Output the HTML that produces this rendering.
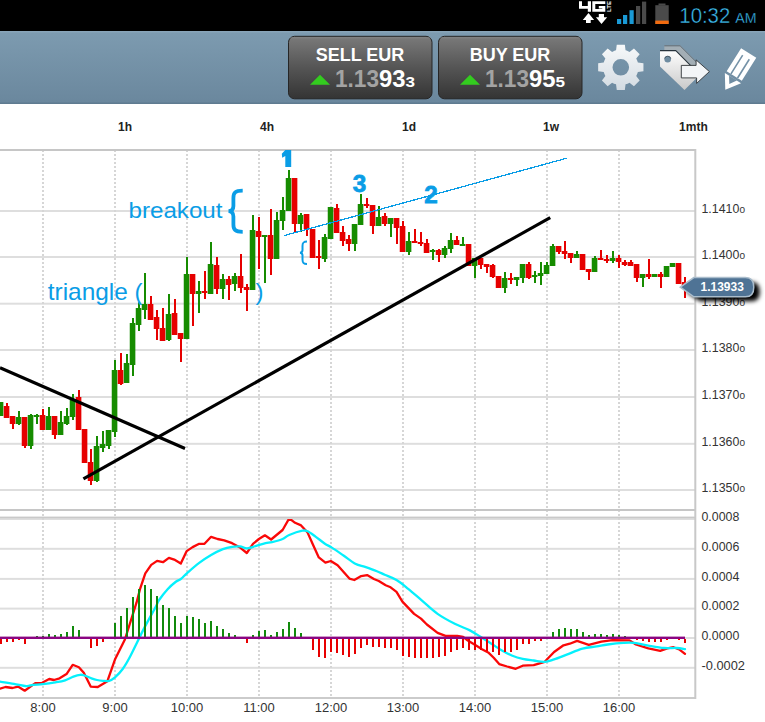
<!DOCTYPE html>
<html><head><meta charset="utf-8"><title>EUR chart</title>
<style>
html,body{margin:0;padding:0;width:765px;height:722px;overflow:hidden;background:#fff}
svg{display:block;position:absolute;left:0;top:0}
text{font-family:"Liberation Sans",sans-serif}
</style></head><body>
<svg width="765" height="722" viewBox="0 0 765 722">
<defs>
<linearGradient id="tb" x1="0" y1="0" x2="0" y2="1">
<stop offset="0" stop-color="#7d9bb0"/><stop offset="1" stop-color="#6a879d"/></linearGradient>
<linearGradient id="btn" x1="0" y1="0" x2="0" y2="1">
<stop offset="0" stop-color="#7a7a7a"/><stop offset="0.5" stop-color="#555555"/><stop offset="1" stop-color="#343434"/></linearGradient>
<linearGradient id="gear" x1="0" y1="0" x2="0" y2="1">
<stop offset="0" stop-color="#f7f9fa"/><stop offset="1" stop-color="#d3dbe2"/></linearGradient>
<linearGradient id="tagf" x1="0" y1="0" x2="0" y2="1">
<stop offset="0" stop-color="#ffffff"/><stop offset="1" stop-color="#c9c9c9"/></linearGradient>
<clipPath id="chartclip"><rect x="0" y="151" width="694" height="358"/></clipPath>
<clipPath id="macdclip"><rect x="0" y="519" width="694" height="178"/></clipPath>
<filter id="shadow" x="-20%" y="-40%" width="150%" height="200%"><feGaussianBlur stdDeviation="2"/></filter>
</defs>

<rect x="0" y="0" width="765" height="31" fill="#000"/>
<path d="M579 1.2 L582 1.2 L582 6 L587.8 6 L587.8 1.2 L591 1.2 L591 11.8 L587.8 11.8 L587.8 8.7 L579 8.7 Z" fill="#fff"/>
<path d="M592.3 1.2 L605.3 1.2 L605.3 4 L595.3 4 L595.3 9 L602.3 9 L602.3 8.4 L598.8 8.4 L598.8 6 L605.3 6 L605.3 11.8 L592.3 11.8 Z" fill="#fff"/>
<text transform="translate(611.2,12) rotate(-90)" font-size="6.2" font-weight="bold" fill="#fff" textLength="11" lengthAdjust="spacingAndGlyphs">LTE</text>
<path d="M588.5 13 L594.1 19.9 L590.7 19.9 L590.7 23 L586 23 L586 19.9 L582.8 19.9 Z" fill="#fff"/>
<path d="M601.5 24 L607.2 17.3 L604 17.3 L604 13.9 L598.8 13.9 L598.8 17.3 L595.9 17.3 Z" fill="#fff"/>
<rect x="617" y="19" width="4.2" height="5" fill="#1a9ad6"/>
<rect x="623" y="15" width="4.2" height="9" fill="#1a9ad6"/>
<rect x="629.5" y="10.2" width="4.2" height="13.8" fill="#1a9ad6"/>
<rect x="636" y="6" width="4.2" height="18" fill="#4a4a4a"/>
<rect x="642" y="1.6" width="4.2" height="22.4" fill="#4a4a4a"/>
<rect x="658.5" y="3.5" width="7" height="2" fill="#4a4a4a"/>
<rect x="655.3" y="5.2" width="13.4" height="18.8" fill="#4a4a4a"/>
<rect x="655.3" y="20.6" width="13.4" height="3.4" fill="#f26b0f"/>
<text x="679.3" y="22.9" font-size="21.5" fill="#3cbdf0" stroke="#000" stroke-width="0.4" textLength="51" lengthAdjust="spacingAndGlyphs">10:32</text>
<text x="735.3" y="22.9" font-size="15.3" fill="#3cbdf0" stroke="#000" stroke-width="0.3" textLength="21.3" lengthAdjust="spacingAndGlyphs">AM</text>
<rect x="0" y="31" width="765" height="73" fill="url(#tb)"/>
<rect x="0" y="31" width="765" height="1.5" fill="#88a4b8"/>
<rect x="0" y="102.5" width="765" height="1.5" fill="#5f7b90"/>
<rect x="288.5" y="36.3" width="143.5" height="62.5" rx="6" ry="6" fill="url(#btn)" stroke="#262626" stroke-width="1"/>
<rect x="290" y="37.3" width="141" height="1" fill="#8a8a8a" opacity="0.6"/>
<text x="360" y="60.6" font-size="18" font-weight="bold" fill="#fff" text-anchor="middle">SELL EUR</text>
<path d="M310 84.8 L320 74.7 L330 84.8 Z" fill="#33cc1f"/>
<text x="335" y="87" font-size="23.5" font-weight="bold" fill="#a3a3a3" textLength="44" lengthAdjust="spacingAndGlyphs">1.13</text>
<text x="379" y="87" font-size="23.5" font-weight="bold" fill="#fff" textLength="26.5" lengthAdjust="spacingAndGlyphs">93</text>
<text x="405.5" y="87" font-size="15" font-weight="bold" fill="#fff" textLength="9.5" lengthAdjust="spacingAndGlyphs">3</text>
<rect x="438.5" y="36.3" width="143.5" height="62.5" rx="6" ry="6" fill="url(#btn)" stroke="#262626" stroke-width="1"/>
<rect x="440" y="37.3" width="141" height="1" fill="#8a8a8a" opacity="0.6"/>
<text x="510" y="60.6" font-size="18" font-weight="bold" fill="#fff" text-anchor="middle">BUY EUR</text>
<path d="M460 84.8 L470 74.7 L480 84.8 Z" fill="#33cc1f"/>
<text x="485" y="87" font-size="23.5" font-weight="bold" fill="#a3a3a3" textLength="44" lengthAdjust="spacingAndGlyphs">1.13</text>
<text x="529" y="87" font-size="23.5" font-weight="bold" fill="#fff" textLength="26.5" lengthAdjust="spacingAndGlyphs">95</text>
<text x="555.5" y="87" font-size="15" font-weight="bold" fill="#fff" textLength="9.5" lengthAdjust="spacingAndGlyphs">5</text>
<path d="M616.05 50.25 L616.75 44.66 L624.85 44.66 L625.55 50.25 L626.57 50.57 L627.57 50.95 L628.55 51.39 L629.5 51.88 L633.95 48.43 L639.67 54.15 L636.22 58.6 L636.71 59.55 L637.15 60.53 L637.53 61.53 L637.85 62.55 L643.44 63.25 L643.44 71.35 L637.85 72.05 L637.53 73.07 L637.15 74.07 L636.71 75.05 L636.22 76 L639.67 80.45 L633.95 86.17 L629.5 82.72 L628.55 83.21 L627.57 83.65 L626.57 84.03 L625.55 84.35 L624.85 89.94 L616.75 89.94 L616.05 84.35 L615.03 84.03 L614.03 83.65 L613.05 83.21 L612.1 82.72 L607.65 86.17 L601.93 80.45 L605.38 76 L604.89 75.05 L604.45 74.07 L604.07 73.07 L603.75 72.05 L598.16 71.35 L598.16 63.25 L603.75 62.55 L604.07 61.53 L604.45 60.53 L604.89 59.55 L605.38 58.6 L601.93 54.15 L607.65 48.43 L612.1 51.88 L613.05 51.39 L614.03 50.95 L615.03 50.57 Z M629.1 67.3 A8.3 8.3 0 1 0 612.5 67.3 A8.3 8.3 0 1 0 629.1 67.3 Z" fill="url(#gear)" fill-rule="evenodd"/>
<path d="M664.3 45.3 L680.1 45.3 L704.4 69.6 L688.8 85.2 L664.3 61.7 Z" fill="#a3aeb5"/>
<path d="M664.3 45.8 L680.1 45.8 L698 63.7" fill="none" stroke="#56636d" stroke-width="0.9"/>
<path d="M660 50.1 L675.8 50.1 L700.1 74.4 L684.5 90 L660 66.5 Z" fill="url(#tagf)"/>
<path d="M660 50.6 L675.8 50.6 L694 68.8" fill="none" stroke="#27333c" stroke-width="1.1"/>
<circle cx="667.7" cy="59.2" r="3.3" fill="#6f8ca1"/>
<path d="M664.6 58.6 A3.2 3.2 0 0 1 670.8 58.6" fill="none" stroke="#3a4a56" stroke-width="0.8"/>
<path d="M681.3 65.4 L696.1 65.4 L696.1 59.9 L709.4 71.6 L696.6 83.4 L696.6 77.9 L681.3 77.9 Z" fill="#f3f5f7" stroke="#2f3337" stroke-width="0.9" stroke-linejoin="miter"/>
<g transform="translate(741.1,48.2) rotate(32)"><path d="M0 0 H17.9 V27.3 H0 Z M4.2 5 H5.8 V27.4 H4.2 Z M12 5 H13.6 V27.4 H12 Z" fill="#fff" fill-rule="evenodd"/><path d="M-0.6 29.7 H18.5 L8.6 43.6 Z M4.3 29.6 H13.5 L9 36.6 Z" fill="#fff" fill-rule="evenodd"/></g>
<text x="125" y="130.7" font-size="12" font-weight="bold" fill="#222" text-anchor="middle">1h</text>
<text x="267" y="130.7" font-size="12" font-weight="bold" fill="#222" text-anchor="middle">4h</text>
<text x="409" y="130.7" font-size="12" font-weight="bold" fill="#222" text-anchor="middle">1d</text>
<text x="551" y="130.7" font-size="12" font-weight="bold" fill="#222" text-anchor="middle">1w</text>
<text x="693.4" y="130.7" font-size="12" font-weight="bold" fill="#222" text-anchor="middle">1mth</text>
<rect x="0" y="210" width="695" height="2" fill="#dedede"/>
<rect x="0" y="256" width="695" height="2" fill="#dedede"/>
<rect x="0" y="302.7" width="695" height="2" fill="#dedede"/>
<rect x="0" y="349" width="695" height="2" fill="#dedede"/>
<rect x="0" y="396" width="695" height="2" fill="#dedede"/>
<rect x="0" y="442.8" width="695" height="2" fill="#dedede"/>
<rect x="0" y="489" width="695" height="2" fill="#dedede"/>
<rect x="0" y="547.8" width="695" height="2" fill="#dedede"/>
<rect x="0" y="577.9" width="695" height="2" fill="#dedede"/>
<rect x="0" y="607.6" width="695" height="2" fill="#dedede"/>
<rect x="0" y="637" width="695" height="2" fill="#dedede"/>
<rect x="0" y="666.8" width="695" height="2" fill="#dedede"/>
<rect x="0" y="518" width="695" height="2" fill="#dedede"/>
<line x1="43" y1="150" x2="43" y2="698" stroke="#d6d6d6" stroke-width="2" stroke-dasharray="2 2"/>
<line x1="115" y1="150" x2="115" y2="698" stroke="#d6d6d6" stroke-width="2" stroke-dasharray="2 2"/>
<line x1="187" y1="150" x2="187" y2="698" stroke="#d6d6d6" stroke-width="2" stroke-dasharray="2 2"/>
<line x1="259" y1="150" x2="259" y2="698" stroke="#d6d6d6" stroke-width="2" stroke-dasharray="2 2"/>
<line x1="331" y1="150" x2="331" y2="698" stroke="#d6d6d6" stroke-width="2" stroke-dasharray="2 2"/>
<line x1="403" y1="150" x2="403" y2="698" stroke="#d6d6d6" stroke-width="2" stroke-dasharray="2 2"/>
<line x1="475" y1="150" x2="475" y2="698" stroke="#d6d6d6" stroke-width="2" stroke-dasharray="2 2"/>
<line x1="547" y1="150" x2="547" y2="698" stroke="#d6d6d6" stroke-width="2" stroke-dasharray="2 2"/>
<line x1="619" y1="150" x2="619" y2="698" stroke="#d6d6d6" stroke-width="2" stroke-dasharray="2 2"/>
<rect x="0" y="149" width="696" height="2" fill="#c6c6c6"/>
<rect x="0" y="509" width="696" height="2" fill="#c6c6c6"/>
<rect x="0" y="516.6" width="696" height="1.6" fill="#c9c9c9"/>
<rect x="0" y="697" width="696" height="2" fill="#cbcbcb"/>
<rect x="694.3" y="149" width="2" height="550" fill="#c8c8c8"/>
<text x="701.5" y="212.8" font-size="12.3" fill="#333" textLength="37.8" lengthAdjust="spacingAndGlyphs">1.1410</text>
<text x="739.6" y="212.8" font-size="8.4" fill="#333" textLength="5.6" lengthAdjust="spacingAndGlyphs">0</text>
<text x="701.5" y="258.8" font-size="12.3" fill="#333" textLength="37.8" lengthAdjust="spacingAndGlyphs">1.1400</text>
<text x="739.6" y="258.8" font-size="8.4" fill="#333" textLength="5.6" lengthAdjust="spacingAndGlyphs">0</text>
<text x="701.5" y="305.5" font-size="12.3" fill="#333" textLength="37.8" lengthAdjust="spacingAndGlyphs">1.1390</text>
<text x="739.6" y="305.5" font-size="8.4" fill="#333" textLength="5.6" lengthAdjust="spacingAndGlyphs">0</text>
<text x="701.5" y="351.9" font-size="12.3" fill="#333" textLength="37.8" lengthAdjust="spacingAndGlyphs">1.1380</text>
<text x="739.6" y="351.9" font-size="8.4" fill="#333" textLength="5.6" lengthAdjust="spacingAndGlyphs">0</text>
<text x="701.5" y="398.8" font-size="12.3" fill="#333" textLength="37.8" lengthAdjust="spacingAndGlyphs">1.1370</text>
<text x="739.6" y="398.8" font-size="8.4" fill="#333" textLength="5.6" lengthAdjust="spacingAndGlyphs">0</text>
<text x="701.5" y="445.5" font-size="12.3" fill="#333" textLength="37.8" lengthAdjust="spacingAndGlyphs">1.1360</text>
<text x="739.6" y="445.5" font-size="8.4" fill="#333" textLength="5.6" lengthAdjust="spacingAndGlyphs">0</text>
<text x="701.5" y="492" font-size="12.3" fill="#333" textLength="37.8" lengthAdjust="spacingAndGlyphs">1.1350</text>
<text x="739.6" y="492" font-size="8.4" fill="#333" textLength="5.6" lengthAdjust="spacingAndGlyphs">0</text>
<text x="701.5" y="520.7" font-size="12.3" fill="#333" textLength="37.8" lengthAdjust="spacingAndGlyphs">0.0008</text>
<text x="701.5" y="550.5" font-size="12.3" fill="#333" textLength="37.8" lengthAdjust="spacingAndGlyphs">0.0006</text>
<text x="701.5" y="580.6" font-size="12.3" fill="#333" textLength="37.8" lengthAdjust="spacingAndGlyphs">0.0004</text>
<text x="701.5" y="610.3" font-size="12.3" fill="#333" textLength="37.8" lengthAdjust="spacingAndGlyphs">0.0002</text>
<text x="701.5" y="640" font-size="12.3" fill="#333" textLength="37.8" lengthAdjust="spacingAndGlyphs">0.0000</text>
<text x="701.5" y="669.7" font-size="12.3" fill="#333" textLength="43.5" lengthAdjust="spacingAndGlyphs">-0.0002</text>
<text x="43" y="712.2" font-size="13" fill="#333" text-anchor="middle">8:00</text>
<text x="115" y="712.2" font-size="13" fill="#333" text-anchor="middle">9:00</text>
<text x="187" y="712.2" font-size="13" fill="#333" text-anchor="middle">10:00</text>
<text x="259" y="712.2" font-size="13" fill="#333" text-anchor="middle">11:00</text>
<text x="331" y="712.2" font-size="13" fill="#333" text-anchor="middle">12:00</text>
<text x="403" y="712.2" font-size="13" fill="#333" text-anchor="middle">13:00</text>
<text x="475" y="712.2" font-size="13" fill="#333" text-anchor="middle">14:00</text>
<text x="547" y="712.2" font-size="13" fill="#333" text-anchor="middle">15:00</text>
<text x="619" y="712.2" font-size="13" fill="#333" text-anchor="middle">16:00</text>
<g clip-path="url(#chartclip)" shape-rendering="crispEdges">
<rect x="0" y="402" width="2" height="14" fill="#168c00"/>
<rect x="-2.25" y="402" width="5.6" height="14" fill="#168c00" shape-rendering="geometricPrecision"/>
<rect x="6" y="403" width="2" height="15" fill="#e60000"/>
<rect x="3.75" y="406" width="5.6" height="12" fill="#e60000" shape-rendering="geometricPrecision"/>
<rect x="12" y="416" width="2" height="13" fill="#e60000"/>
<rect x="9.75" y="416" width="5.6" height="8" fill="#e60000" shape-rendering="geometricPrecision"/>
<rect x="18" y="411" width="2" height="14" fill="#168c00"/>
<rect x="15.75" y="417" width="5.6" height="7" fill="#168c00" shape-rendering="geometricPrecision"/>
<rect x="24" y="417" width="2" height="31" fill="#e60000"/>
<rect x="21.75" y="417" width="5.6" height="29" fill="#e60000" shape-rendering="geometricPrecision"/>
<rect x="30" y="414" width="2" height="35" fill="#168c00"/>
<rect x="27.75" y="415" width="5.6" height="31" fill="#168c00" shape-rendering="geometricPrecision"/>
<rect x="36" y="414" width="2" height="10" fill="#168c00"/>
<rect x="33.75" y="415" width="5.6" height="2" fill="#168c00" shape-rendering="geometricPrecision"/>
<rect x="42" y="409" width="2" height="21" fill="#e60000"/>
<rect x="39.75" y="415" width="5.6" height="15" fill="#e60000" shape-rendering="geometricPrecision"/>
<rect x="48" y="407" width="2" height="23" fill="#168c00"/>
<rect x="45.75" y="416" width="5.6" height="14" fill="#168c00" shape-rendering="geometricPrecision"/>
<rect x="54" y="416" width="2" height="23" fill="#e60000"/>
<rect x="51.75" y="416" width="5.6" height="19" fill="#e60000" shape-rendering="geometricPrecision"/>
<rect x="60" y="411" width="2" height="24" fill="#168c00"/>
<rect x="57.75" y="422" width="5.6" height="13" fill="#168c00" shape-rendering="geometricPrecision"/>
<rect x="66" y="408" width="2" height="17" fill="#168c00"/>
<rect x="63.75" y="416" width="5.6" height="8" fill="#168c00" shape-rendering="geometricPrecision"/>
<rect x="72" y="394" width="2" height="26" fill="#168c00"/>
<rect x="69.75" y="400" width="5.6" height="17" fill="#168c00" shape-rendering="geometricPrecision"/>
<rect x="78" y="390" width="2" height="40" fill="#e60000"/>
<rect x="75.75" y="397" width="5.6" height="33" fill="#e60000" shape-rendering="geometricPrecision"/>
<rect x="84" y="429" width="2" height="34" fill="#e60000"/>
<rect x="81.75" y="429" width="5.6" height="34" fill="#e60000" shape-rendering="geometricPrecision"/>
<rect x="90" y="449" width="2" height="36" fill="#e60000"/>
<rect x="87.75" y="462" width="5.6" height="19" fill="#e60000" shape-rendering="geometricPrecision"/>
<rect x="96" y="436" width="2" height="46" fill="#168c00"/>
<rect x="93.75" y="446" width="5.6" height="35" fill="#168c00" shape-rendering="geometricPrecision"/>
<rect x="102" y="431" width="2" height="21" fill="#168c00"/>
<rect x="99.75" y="444" width="5.6" height="4" fill="#168c00" shape-rendering="geometricPrecision"/>
<rect x="108" y="430" width="2" height="19" fill="#168c00"/>
<rect x="105.75" y="430" width="5.6" height="16" fill="#168c00" shape-rendering="geometricPrecision"/>
<rect x="114" y="360" width="2" height="77" fill="#168c00"/>
<rect x="111.75" y="370" width="5.6" height="62" fill="#168c00" shape-rendering="geometricPrecision"/>
<rect x="120" y="353" width="2" height="32" fill="#e60000"/>
<rect x="117.75" y="370" width="5.6" height="14" fill="#e60000" shape-rendering="geometricPrecision"/>
<rect x="126" y="354" width="2" height="29" fill="#168c00"/>
<rect x="123.75" y="363" width="5.6" height="20" fill="#168c00" shape-rendering="geometricPrecision"/>
<rect x="132" y="318" width="2" height="58" fill="#168c00"/>
<rect x="129.75" y="323" width="5.6" height="42" fill="#168c00" shape-rendering="geometricPrecision"/>
<rect x="138" y="302" width="2" height="29" fill="#168c00"/>
<rect x="135.75" y="308" width="5.6" height="17" fill="#168c00" shape-rendering="geometricPrecision"/>
<rect x="144" y="273" width="2" height="46" fill="#168c00"/>
<rect x="141.75" y="304" width="5.6" height="6" fill="#168c00" shape-rendering="geometricPrecision"/>
<rect x="150" y="296" width="2" height="24" fill="#e60000"/>
<rect x="147.75" y="304" width="5.6" height="16" fill="#e60000" shape-rendering="geometricPrecision"/>
<rect x="156" y="310" width="2" height="30" fill="#e60000"/>
<rect x="153.75" y="317" width="5.6" height="12" fill="#e60000" shape-rendering="geometricPrecision"/>
<rect x="162" y="308" width="2" height="33" fill="#e60000"/>
<rect x="159.75" y="328" width="5.6" height="13" fill="#e60000" shape-rendering="geometricPrecision"/>
<rect x="168" y="294" width="2" height="47" fill="#168c00"/>
<rect x="165.75" y="314" width="5.6" height="26" fill="#168c00" shape-rendering="geometricPrecision"/>
<rect x="174" y="299" width="2" height="36" fill="#e60000"/>
<rect x="171.75" y="313" width="5.6" height="22" fill="#e60000" shape-rendering="geometricPrecision"/>
<rect x="180" y="333" width="2" height="29" fill="#e60000"/>
<rect x="177.75" y="333" width="5.6" height="6" fill="#e60000" shape-rendering="geometricPrecision"/>
<rect x="186" y="257" width="2" height="82" fill="#168c00"/>
<rect x="183.75" y="274" width="5.6" height="65" fill="#168c00" shape-rendering="geometricPrecision"/>
<rect x="192" y="274" width="2" height="52" fill="#e60000"/>
<rect x="189.75" y="274" width="5.6" height="20" fill="#e60000" shape-rendering="geometricPrecision"/>
<rect x="198" y="281" width="2" height="32" fill="#168c00"/>
<rect x="195.75" y="291" width="5.6" height="3" fill="#168c00" shape-rendering="geometricPrecision"/>
<rect x="204" y="271" width="2" height="28" fill="#e60000"/>
<rect x="201.75" y="291" width="5.6" height="2" fill="#e60000" shape-rendering="geometricPrecision"/>
<rect x="210" y="242" width="2" height="52" fill="#168c00"/>
<rect x="207.75" y="264" width="5.6" height="30" fill="#168c00" shape-rendering="geometricPrecision"/>
<rect x="216" y="257" width="2" height="37" fill="#e60000"/>
<rect x="213.75" y="265" width="5.6" height="24" fill="#e60000" shape-rendering="geometricPrecision"/>
<rect x="222" y="274" width="2" height="25" fill="#168c00"/>
<rect x="219.75" y="279" width="5.6" height="10" fill="#168c00" shape-rendering="geometricPrecision"/>
<rect x="228" y="276" width="2" height="24" fill="#e60000"/>
<rect x="225.75" y="279" width="5.6" height="6" fill="#e60000" shape-rendering="geometricPrecision"/>
<rect x="234" y="273" width="2" height="18" fill="#168c00"/>
<rect x="231.75" y="276" width="5.6" height="8" fill="#168c00" shape-rendering="geometricPrecision"/>
<rect x="240" y="254" width="2" height="39" fill="#e60000"/>
<rect x="237.75" y="276" width="5.6" height="12" fill="#e60000" shape-rendering="geometricPrecision"/>
<rect x="246" y="284" width="2" height="27" fill="#e60000"/>
<rect x="243.75" y="287" width="5.6" height="3" fill="#e60000" shape-rendering="geometricPrecision"/>
<rect x="252" y="215" width="2" height="75" fill="#168c00"/>
<rect x="249.75" y="230" width="5.6" height="60" fill="#168c00" shape-rendering="geometricPrecision"/>
<rect x="258" y="217" width="2" height="52" fill="#e60000"/>
<rect x="255.75" y="231" width="5.6" height="6" fill="#e60000" shape-rendering="geometricPrecision"/>
<rect x="264" y="235" width="2" height="48" fill="#168c00"/>
<rect x="261.75" y="235" width="5.6" height="2" fill="#168c00" shape-rendering="geometricPrecision"/>
<rect x="270" y="209" width="2" height="66" fill="#e60000"/>
<rect x="267.75" y="235" width="5.6" height="24" fill="#e60000" shape-rendering="geometricPrecision"/>
<rect x="276" y="212" width="2" height="47" fill="#168c00"/>
<rect x="273.75" y="220" width="5.6" height="39" fill="#168c00" shape-rendering="geometricPrecision"/>
<rect x="282" y="197" width="2" height="33" fill="#168c00"/>
<rect x="279.75" y="210" width="5.6" height="11" fill="#168c00" shape-rendering="geometricPrecision"/>
<rect x="288" y="170" width="2" height="41" fill="#168c00"/>
<rect x="285.75" y="178" width="5.6" height="33" fill="#168c00" shape-rendering="geometricPrecision"/>
<rect x="294" y="178" width="2" height="54" fill="#e60000"/>
<rect x="291.75" y="178" width="5.6" height="46" fill="#e60000" shape-rendering="geometricPrecision"/>
<rect x="300" y="213" width="2" height="19" fill="#168c00"/>
<rect x="297.75" y="215" width="5.6" height="9" fill="#168c00" shape-rendering="geometricPrecision"/>
<rect x="306" y="214" width="2" height="22" fill="#e60000"/>
<rect x="303.75" y="214" width="5.6" height="15" fill="#e60000" shape-rendering="geometricPrecision"/>
<rect x="312" y="229" width="2" height="29" fill="#e60000"/>
<rect x="309.75" y="229" width="5.6" height="29" fill="#e60000" shape-rendering="geometricPrecision"/>
<rect x="318" y="240" width="2" height="29" fill="#e60000"/>
<rect x="315.75" y="256" width="5.6" height="2" fill="#e60000" shape-rendering="geometricPrecision"/>
<rect x="324" y="234" width="2" height="28" fill="#168c00"/>
<rect x="321.75" y="237" width="5.6" height="22" fill="#168c00" shape-rendering="geometricPrecision"/>
<rect x="330" y="207" width="2" height="32" fill="#168c00"/>
<rect x="327.75" y="207" width="5.6" height="32" fill="#168c00" shape-rendering="geometricPrecision"/>
<rect x="336" y="204" width="2" height="29" fill="#e60000"/>
<rect x="333.75" y="208" width="5.6" height="25" fill="#e60000" shape-rendering="geometricPrecision"/>
<rect x="342" y="226" width="2" height="20" fill="#e60000"/>
<rect x="339.75" y="232" width="5.6" height="9" fill="#e60000" shape-rendering="geometricPrecision"/>
<rect x="348" y="235" width="2" height="16" fill="#e60000"/>
<rect x="345.75" y="239" width="5.6" height="5" fill="#e60000" shape-rendering="geometricPrecision"/>
<rect x="354" y="224" width="2" height="27" fill="#168c00"/>
<rect x="351.75" y="224" width="5.6" height="20" fill="#168c00" shape-rendering="geometricPrecision"/>
<rect x="360" y="194" width="2" height="31" fill="#168c00"/>
<rect x="357.75" y="204" width="5.6" height="21" fill="#168c00" shape-rendering="geometricPrecision"/>
<rect x="366" y="198" width="2" height="10" fill="#e60000"/>
<rect x="363.75" y="204" width="5.6" height="2" fill="#e60000" shape-rendering="geometricPrecision"/>
<rect x="372" y="205" width="2" height="29" fill="#e60000"/>
<rect x="369.75" y="205" width="5.6" height="21" fill="#e60000" shape-rendering="geometricPrecision"/>
<rect x="378" y="206" width="2" height="20" fill="#168c00"/>
<rect x="375.75" y="217" width="5.6" height="9" fill="#168c00" shape-rendering="geometricPrecision"/>
<rect x="384" y="213" width="2" height="13" fill="#e60000"/>
<rect x="381.75" y="216" width="5.6" height="8" fill="#e60000" shape-rendering="geometricPrecision"/>
<rect x="390" y="218" width="2" height="19" fill="#168c00"/>
<rect x="387.75" y="218" width="5.6" height="6" fill="#168c00" shape-rendering="geometricPrecision"/>
<rect x="396" y="218" width="2" height="26" fill="#e60000"/>
<rect x="393.75" y="218" width="5.6" height="10" fill="#e60000" shape-rendering="geometricPrecision"/>
<rect x="402" y="221" width="2" height="31" fill="#e60000"/>
<rect x="399.75" y="226" width="5.6" height="26" fill="#e60000" shape-rendering="geometricPrecision"/>
<rect x="408" y="232" width="2" height="23" fill="#168c00"/>
<rect x="405.75" y="241" width="5.6" height="11" fill="#168c00" shape-rendering="geometricPrecision"/>
<rect x="414" y="229" width="2" height="14" fill="#e60000"/>
<rect x="411.75" y="241" width="5.6" height="2" fill="#e60000" shape-rendering="geometricPrecision"/>
<rect x="420" y="232" width="2" height="14" fill="#e60000"/>
<rect x="417.75" y="242" width="5.6" height="2" fill="#e60000" shape-rendering="geometricPrecision"/>
<rect x="426" y="239" width="2" height="14" fill="#e60000"/>
<rect x="423.75" y="243" width="5.6" height="10" fill="#e60000" shape-rendering="geometricPrecision"/>
<rect x="432" y="249" width="2" height="11" fill="#168c00"/>
<rect x="429.75" y="250" width="5.6" height="2" fill="#168c00" shape-rendering="geometricPrecision"/>
<rect x="438" y="249" width="2" height="13" fill="#e60000"/>
<rect x="435.75" y="250" width="5.6" height="5" fill="#e60000" shape-rendering="geometricPrecision"/>
<rect x="444" y="246" width="2" height="12" fill="#168c00"/>
<rect x="441.75" y="248" width="5.6" height="7" fill="#168c00" shape-rendering="geometricPrecision"/>
<rect x="450" y="233" width="2" height="20" fill="#168c00"/>
<rect x="447.75" y="240" width="5.6" height="9" fill="#168c00" shape-rendering="geometricPrecision"/>
<rect x="456" y="236" width="2" height="9" fill="#e60000"/>
<rect x="453.75" y="240" width="5.6" height="5" fill="#e60000" shape-rendering="geometricPrecision"/>
<rect x="462" y="237" width="2" height="8" fill="#168c00"/>
<rect x="459.75" y="244" width="5.6" height="2" fill="#168c00" shape-rendering="geometricPrecision"/>
<rect x="468" y="244" width="2" height="22" fill="#e60000"/>
<rect x="465.75" y="244" width="5.6" height="22" fill="#e60000" shape-rendering="geometricPrecision"/>
<rect x="474" y="258" width="2" height="20" fill="#168c00"/>
<rect x="471.75" y="258" width="5.6" height="8" fill="#168c00" shape-rendering="geometricPrecision"/>
<rect x="480" y="258" width="2" height="11" fill="#e60000"/>
<rect x="477.75" y="258" width="5.6" height="7" fill="#e60000" shape-rendering="geometricPrecision"/>
<rect x="486" y="264" width="2" height="9" fill="#e60000"/>
<rect x="483.75" y="264" width="5.6" height="3" fill="#e60000" shape-rendering="geometricPrecision"/>
<rect x="492" y="264" width="2" height="14" fill="#e60000"/>
<rect x="489.75" y="265" width="5.6" height="12" fill="#e60000" shape-rendering="geometricPrecision"/>
<rect x="498" y="276" width="2" height="12" fill="#e60000"/>
<rect x="495.75" y="276" width="5.6" height="12" fill="#e60000" shape-rendering="geometricPrecision"/>
<rect x="504" y="272" width="2" height="21" fill="#168c00"/>
<rect x="501.75" y="278" width="5.6" height="10" fill="#168c00" shape-rendering="geometricPrecision"/>
<rect x="510" y="273" width="2" height="11" fill="#e60000"/>
<rect x="507.75" y="278" width="5.6" height="2" fill="#e60000" shape-rendering="geometricPrecision"/>
<rect x="516" y="277" width="2" height="9" fill="#168c00"/>
<rect x="513.75" y="277" width="5.6" height="3" fill="#168c00" shape-rendering="geometricPrecision"/>
<rect x="522" y="264" width="2" height="19" fill="#168c00"/>
<rect x="519.75" y="264" width="5.6" height="14" fill="#168c00" shape-rendering="geometricPrecision"/>
<rect x="528" y="262" width="2" height="17" fill="#e60000"/>
<rect x="525.75" y="264" width="5.6" height="14" fill="#e60000" shape-rendering="geometricPrecision"/>
<rect x="534" y="271" width="2" height="12" fill="#168c00"/>
<rect x="531.75" y="275" width="5.6" height="2" fill="#168c00" shape-rendering="geometricPrecision"/>
<rect x="540" y="262" width="2" height="23" fill="#168c00"/>
<rect x="537.75" y="273" width="5.6" height="3" fill="#168c00" shape-rendering="geometricPrecision"/>
<rect x="546" y="262" width="2" height="12" fill="#168c00"/>
<rect x="543.75" y="265" width="5.6" height="9" fill="#168c00" shape-rendering="geometricPrecision"/>
<rect x="552" y="244" width="2" height="22" fill="#168c00"/>
<rect x="549.75" y="246" width="5.6" height="20" fill="#168c00" shape-rendering="geometricPrecision"/>
<rect x="558" y="246" width="2" height="8" fill="#e60000"/>
<rect x="555.75" y="246" width="5.6" height="6" fill="#e60000" shape-rendering="geometricPrecision"/>
<rect x="564" y="241" width="2" height="18" fill="#e60000"/>
<rect x="561.75" y="251" width="5.6" height="3" fill="#e60000" shape-rendering="geometricPrecision"/>
<rect x="570" y="253" width="2" height="10" fill="#e60000"/>
<rect x="567.75" y="253" width="5.6" height="5" fill="#e60000" shape-rendering="geometricPrecision"/>
<rect x="576" y="251" width="2" height="7" fill="#168c00"/>
<rect x="573.75" y="254" width="5.6" height="4" fill="#168c00" shape-rendering="geometricPrecision"/>
<rect x="582" y="254" width="2" height="16" fill="#e60000"/>
<rect x="579.75" y="254" width="5.6" height="16" fill="#e60000" shape-rendering="geometricPrecision"/>
<rect x="588" y="269" width="2" height="11" fill="#e60000"/>
<rect x="585.75" y="269" width="5.6" height="3" fill="#e60000" shape-rendering="geometricPrecision"/>
<rect x="594" y="256" width="2" height="16" fill="#168c00"/>
<rect x="591.75" y="258" width="5.6" height="14" fill="#168c00" shape-rendering="geometricPrecision"/>
<rect x="600" y="250" width="2" height="10" fill="#e60000"/>
<rect x="597.75" y="258" width="5.6" height="2" fill="#e60000" shape-rendering="geometricPrecision"/>
<rect x="606" y="255" width="2" height="8" fill="#e60000"/>
<rect x="603.75" y="259" width="5.6" height="2" fill="#e60000" shape-rendering="geometricPrecision"/>
<rect x="612" y="251" width="2" height="12" fill="#168c00"/>
<rect x="609.75" y="258" width="5.6" height="3" fill="#168c00" shape-rendering="geometricPrecision"/>
<rect x="618" y="255" width="2" height="13" fill="#e60000"/>
<rect x="615.75" y="258" width="5.6" height="4" fill="#e60000" shape-rendering="geometricPrecision"/>
<rect x="624" y="260" width="2" height="6" fill="#e60000"/>
<rect x="621.75" y="262" width="5.6" height="3" fill="#e60000" shape-rendering="geometricPrecision"/>
<rect x="630" y="260" width="2" height="6" fill="#e60000"/>
<rect x="627.75" y="262" width="5.6" height="4" fill="#e60000" shape-rendering="geometricPrecision"/>
<rect x="636" y="264" width="2" height="18" fill="#e60000"/>
<rect x="633.75" y="264" width="5.6" height="14" fill="#e60000" shape-rendering="geometricPrecision"/>
<rect x="642" y="274" width="2" height="13" fill="#168c00"/>
<rect x="639.75" y="274" width="5.6" height="4" fill="#168c00" shape-rendering="geometricPrecision"/>
<rect x="648" y="259" width="2" height="20" fill="#e60000"/>
<rect x="645.75" y="274" width="5.6" height="3" fill="#e60000" shape-rendering="geometricPrecision"/>
<rect x="654" y="274" width="2" height="3" fill="#168c00"/>
<rect x="651.75" y="274" width="5.6" height="3" fill="#168c00" shape-rendering="geometricPrecision"/>
<rect x="660" y="272" width="2" height="16" fill="#e60000"/>
<rect x="657.75" y="274" width="5.6" height="3" fill="#e60000" shape-rendering="geometricPrecision"/>
<rect x="666" y="266" width="2" height="11" fill="#168c00"/>
<rect x="663.75" y="266" width="5.6" height="11" fill="#168c00" shape-rendering="geometricPrecision"/>
<rect x="672" y="263" width="2" height="4" fill="#168c00"/>
<rect x="669.75" y="263" width="5.6" height="4" fill="#168c00" shape-rendering="geometricPrecision"/>
<rect x="678" y="263" width="2" height="21" fill="#e60000"/>
<rect x="675.75" y="263" width="5.6" height="21" fill="#e60000" shape-rendering="geometricPrecision"/>
<rect x="684" y="277" width="2" height="21" fill="#e60000"/>
<rect x="681.75" y="282" width="5.6" height="4" fill="#e60000" shape-rendering="geometricPrecision"/>
</g>
<line x1="0" y1="367.7" x2="185" y2="448.5" stroke="#000" stroke-width="3.2"/>
<line x1="83.4" y1="478.8" x2="550.2" y2="217.6" stroke="#000" stroke-width="3.2"/>
<line x1="284" y1="235.6" x2="566.8" y2="158.2" stroke="#0a9de6" stroke-width="1.3" shape-rendering="crispEdges"/>
<text x="128.5" y="218.2" font-size="22.6" fill="#0a9de6" textLength="94" lengthAdjust="spacingAndGlyphs">breakout</text>
<path d="M242.7 190.6 C235 190.6 233.4 193 233.4 198 L233.4 206 C233.4 209.5 231.8 211 228.6 211.2 C231.8 211.4 233.4 213 233.4 216.5 L233.4 224.5 C233.4 229.5 235 231.8 242.7 231.8" fill="none" stroke="#0a9de6" stroke-width="3.8"/>
<text x="47.8" y="299.5" font-size="24" fill="#0a9de6" textLength="80" lengthAdjust="spacingAndGlyphs">triangle</text>
<text x="134.5" y="300" font-size="24" fill="#0a9de6">(</text>
<text x="255.5" y="300" font-size="24" fill="#0a9de6">)</text>
<path d="M307 241.5 C303 241.5 302.5 243 302.5 246 L302.5 250 C302.5 251.8 301.5 252.6 300 252.7 C301.5 252.8 302.5 253.6 302.5 255.4 L302.5 259.5 C302.5 262.5 303 264 307 264" fill="none" stroke="#0a9de6" stroke-width="2"/>
<path d="M285.3 150 L291.2 150 L291.2 167 L285.3 167 L285.3 156 L282.2 157.8 L281.8 153.8 Z" fill="#0a9de6"/>
<text x="352.8" y="191.6" font-size="24.2" font-weight="bold" fill="#0a9de6" stroke="#0a9de6" stroke-width="0.8">3</text>
<text x="424.3" y="202.9" font-size="24.2" font-weight="bold" fill="#0a9de6" stroke="#0a9de6" stroke-width="0.8">2</text>
<g clip-path="url(#macdclip)">
<polyline points="0,688.6 5.5,687 12.5,688 18,686.6 24.7,690.7 35.3,683.1 42.2,682.8 49.2,679 54,680 59.6,678.3 66.5,674.1 72.7,664.8 78.9,667.2 83.8,672.7 90.7,686.6 97.8,687 107.4,681.2 115.2,658.9 124.9,639.5 136.5,602.7 140,589.2 145.3,573.4 151.2,564.9 157.1,560.9 163,562.2 168.9,557.9 174.2,559.6 180.8,563.6 186.7,551.1 192.6,547.1 199.2,543.8 204.5,543.8 211.1,536.8 217.6,539 224.2,540.3 232.1,543.2 240.5,547.8 246.8,553 253,543.8 258.9,539 264.9,535.3 271.1,539.5 282.6,530 289.2,518.4 295.1,522.8 301.1,525.4 307.6,532.6 312.9,544.5 318.8,557.4 325.4,562.6 330.8,561 337.6,565.3 349.4,578.6 354.3,580 361.2,576.1 367.1,575.1 373.9,579 378.8,581 385.7,585.3 390.6,587.3 396.5,591.8 402.4,601.6 414.1,613.9 421,618.6 426.9,624.5 437.6,632.9 445.5,635.9 457.3,635.9 463.1,636.9 467.8,640.6 475.7,645.3 482,649.2 488.2,652.4 493.7,657.8 499.2,664.1 507.1,666.5 515.7,668.8 522.7,665.7 533.7,665.2 544.7,661.8 554.1,652 563.5,645.3 569.8,643.7 577.1,640.9 588.8,644.8 601.4,641.7 612.4,640.1 629.6,640.4 635.9,644.5 648.4,648.3 660.2,650.8 667.3,648.3 673.5,647.2 679.8,649.8 685,653.9" fill="none" stroke="#fa0808" stroke-width="2.3" stroke-linejoin="round" stroke-linecap="round"/>
<path d="M0 681.7 C2.32 682.05 9.52 683.07 13.9 683.8 C18.28 684.53 23.08 685.93 26.3 686.1 C29.52 686.27 30.43 685.12 33.2 684.8 C35.97 684.48 39.2 684.6 42.9 684.2 C46.6 683.8 51.7 683.05 55.4 682.4 C59.1 681.75 62.1 681.27 65.1 680.3 C68.1 679.33 70.87 677.52 73.4 676.6 C75.93 675.68 78.45 674.98 80.3 674.8 C82.15 674.62 82.65 674.92 84.5 675.5 C86.35 676.08 89.32 677.55 91.4 678.3 C93.48 679.05 95.07 679.58 97 680 C98.93 680.42 101 680.67 103 680.8 C105 680.93 107 681.38 109 680.8 C111 680.22 112.72 679.27 115 677.3 C117.28 675.33 120.2 672.42 122.7 669 C125.2 665.58 126.4 663.65 130 656.8 C133.6 649.95 139.98 636.28 144.3 627.9 C148.62 619.52 153.43 611.15 155.9 606.5 C158.37 601.85 157.15 602.88 159.1 600 C161.05 597.12 164.87 592.2 167.6 589.2 C170.33 586.2 173.3 583.7 175.5 582 C177.7 580.3 178.82 580.53 180.8 579 C182.78 577.47 184.33 575.48 187.4 572.8 C190.47 570.12 195.25 565.87 199.2 562.9 C203.15 559.93 207.15 557.3 211.1 555 C215.05 552.7 219.4 550.47 222.9 549.1 C226.4 547.73 229.25 547.25 232.1 546.8 C234.95 546.35 237.5 546.13 240 546.4 C242.5 546.67 244.38 548.5 247.1 548.4 C249.82 548.3 253.23 546.67 256.3 545.8 C259.37 544.93 262.87 543.82 265.5 543.2 C268.13 542.58 269.25 542.8 272.1 542.1 C274.95 541.4 279.75 540.18 282.6 539 C285.45 537.82 285.9 536.38 289.2 535 C292.5 533.62 299.33 531.32 302.4 530.7 C305.47 530.08 305.42 530.32 307.6 531.3 C309.78 532.28 312.62 534.53 315.5 536.6 C318.38 538.67 322.18 541.87 324.9 543.7 C327.62 545.53 328.7 545.63 331.8 547.6 C334.9 549.57 339.58 552.82 343.5 555.5 C347.42 558.18 351.7 561.8 355.3 563.7 C358.9 565.6 361.5 565.65 365.1 566.9 C368.7 568.15 373.63 569.9 376.9 571.2 C380.17 572.5 381.43 573.23 384.7 574.7 C387.97 576.17 392.58 577.65 396.5 580 C400.42 582.35 403.95 585.37 408.2 588.8 C412.45 592.23 417.1 596.42 422 600.6 C426.9 604.78 432.05 609.98 437.6 613.9 C443.15 617.82 450 621.4 455.3 624.1 C460.6 626.8 465.22 628 469.4 630.1 C473.58 632.2 476.73 634.43 480.4 636.7 C484.07 638.97 487.73 641.35 491.4 643.7 C495.07 646.05 499 648.83 502.4 650.8 C505.8 652.77 508.42 654.15 511.8 655.5 C515.18 656.85 519.05 658.07 522.7 658.9 C526.35 659.73 530.03 660.02 533.7 660.5 C537.37 660.98 541.3 661.98 544.7 661.8 C548.1 661.62 550.43 660.58 554.1 659.4 C557.77 658.22 561.97 656.48 566.7 654.7 C571.43 652.92 577.5 650.08 582.5 648.7 C587.5 647.32 592.52 647.1 596.7 646.4 C600.88 645.7 603.17 645.08 607.6 644.5 C612.03 643.92 618.85 643.17 623.3 642.9 C627.75 642.63 630.12 642.45 634.3 642.9 C638.48 643.35 643.43 644.75 648.4 645.6 C653.37 646.45 659.38 647.6 664.1 648 C668.82 648.4 673.22 647.8 676.7 648 C680.18 648.2 683.62 649 685 649.2" fill="none" stroke="#05f0fc" stroke-width="2.3" stroke-linejoin="round" stroke-linecap="round"/>
</g>
<g clip-path="url(#macdclip)" shape-rendering="crispEdges">
<rect x="0" y="639" width="2" height="5" fill="#e80000"/>
<rect x="6" y="639" width="2" height="3" fill="#e80000"/>
<rect x="12" y="639" width="2" height="3" fill="#e80000"/>
<rect x="18" y="639" width="2" height="1" fill="#e80000"/>
<rect x="24" y="639" width="2" height="5" fill="#e80000"/>
<rect x="36" y="636" width="2" height="1" fill="#118a0c"/>
<rect x="42" y="636" width="2" height="1" fill="#118a0c"/>
<rect x="48" y="634" width="2" height="3" fill="#118a0c"/>
<rect x="54" y="635" width="2" height="2" fill="#118a0c"/>
<rect x="60" y="634" width="2" height="3" fill="#118a0c"/>
<rect x="66" y="632" width="2" height="5" fill="#118a0c"/>
<rect x="72" y="626" width="2" height="11" fill="#118a0c"/>
<rect x="78" y="630" width="2" height="7" fill="#118a0c"/>
<rect x="90" y="639" width="2" height="9" fill="#e80000"/>
<rect x="96" y="639" width="2" height="7" fill="#e80000"/>
<rect x="102" y="639" width="2" height="3" fill="#e80000"/>
<rect x="114" y="623" width="2" height="14" fill="#118a0c"/>
<rect x="120" y="616" width="2" height="21" fill="#118a0c"/>
<rect x="126" y="608" width="2" height="29" fill="#118a0c"/>
<rect x="132" y="597" width="2" height="40" fill="#118a0c"/>
<rect x="138" y="589" width="2" height="48" fill="#118a0c"/>
<rect x="144" y="585" width="2" height="52" fill="#118a0c"/>
<rect x="150" y="589" width="2" height="48" fill="#118a0c"/>
<rect x="156" y="596" width="2" height="41" fill="#118a0c"/>
<rect x="162" y="605" width="2" height="32" fill="#118a0c"/>
<rect x="168" y="608" width="2" height="29" fill="#118a0c"/>
<rect x="174" y="616" width="2" height="21" fill="#118a0c"/>
<rect x="180" y="623" width="2" height="14" fill="#118a0c"/>
<rect x="186" y="616" width="2" height="21" fill="#118a0c"/>
<rect x="192" y="617" width="2" height="20" fill="#118a0c"/>
<rect x="198" y="619" width="2" height="18" fill="#118a0c"/>
<rect x="204" y="623" width="2" height="14" fill="#118a0c"/>
<rect x="210" y="621" width="2" height="16" fill="#118a0c"/>
<rect x="216" y="626" width="2" height="11" fill="#118a0c"/>
<rect x="222" y="629" width="2" height="8" fill="#118a0c"/>
<rect x="228" y="633" width="2" height="4" fill="#118a0c"/>
<rect x="234" y="635" width="2" height="2" fill="#118a0c"/>
<rect x="246" y="639" width="2" height="4" fill="#e80000"/>
<rect x="252" y="635" width="2" height="2" fill="#118a0c"/>
<rect x="258" y="631" width="2" height="6" fill="#118a0c"/>
<rect x="264" y="630" width="2" height="7" fill="#118a0c"/>
<rect x="270" y="635" width="2" height="2" fill="#118a0c"/>
<rect x="276" y="632" width="2" height="5" fill="#118a0c"/>
<rect x="282" y="629" width="2" height="8" fill="#118a0c"/>
<rect x="288" y="622" width="2" height="15" fill="#118a0c"/>
<rect x="294" y="628" width="2" height="9" fill="#118a0c"/>
<rect x="300" y="633" width="2" height="4" fill="#118a0c"/>
<rect x="312" y="639" width="2" height="11" fill="#e80000"/>
<rect x="318" y="639" width="2" height="18" fill="#e80000"/>
<rect x="324" y="639" width="2" height="19" fill="#e80000"/>
<rect x="330" y="639" width="2" height="13" fill="#e80000"/>
<rect x="336" y="639" width="2" height="14" fill="#e80000"/>
<rect x="342" y="639" width="2" height="16" fill="#e80000"/>
<rect x="348" y="639" width="2" height="18" fill="#e80000"/>
<rect x="354" y="639" width="2" height="15" fill="#e80000"/>
<rect x="360" y="639" width="2" height="9" fill="#e80000"/>
<rect x="366" y="639" width="2" height="6" fill="#e80000"/>
<rect x="372" y="639" width="2" height="8" fill="#e80000"/>
<rect x="378" y="639" width="2" height="8" fill="#e80000"/>
<rect x="384" y="639" width="2" height="9" fill="#e80000"/>
<rect x="390" y="639" width="2" height="9" fill="#e80000"/>
<rect x="396" y="639" width="2" height="11" fill="#e80000"/>
<rect x="402" y="639" width="2" height="17" fill="#e80000"/>
<rect x="408" y="639" width="2" height="18" fill="#e80000"/>
<rect x="414" y="639" width="2" height="19" fill="#e80000"/>
<rect x="420" y="639" width="2" height="19" fill="#e80000"/>
<rect x="426" y="639" width="2" height="19" fill="#e80000"/>
<rect x="432" y="639" width="2" height="19" fill="#e80000"/>
<rect x="438" y="639" width="2" height="18" fill="#e80000"/>
<rect x="444" y="639" width="2" height="17" fill="#e80000"/>
<rect x="450" y="639" width="2" height="13" fill="#e80000"/>
<rect x="456" y="639" width="2" height="11" fill="#e80000"/>
<rect x="462" y="639" width="2" height="9" fill="#e80000"/>
<rect x="468" y="639" width="2" height="11" fill="#e80000"/>
<rect x="474" y="639" width="2" height="11" fill="#e80000"/>
<rect x="480" y="639" width="2" height="11" fill="#e80000"/>
<rect x="486" y="639" width="2" height="12" fill="#e80000"/>
<rect x="492" y="639" width="2" height="13" fill="#e80000"/>
<rect x="498" y="639" width="2" height="16" fill="#e80000"/>
<rect x="504" y="639" width="2" height="13" fill="#e80000"/>
<rect x="510" y="639" width="2" height="13" fill="#e80000"/>
<rect x="516" y="639" width="2" height="11" fill="#e80000"/>
<rect x="522" y="639" width="2" height="5" fill="#e80000"/>
<rect x="528" y="639" width="2" height="5" fill="#e80000"/>
<rect x="534" y="639" width="2" height="2" fill="#e80000"/>
<rect x="540" y="639" width="2" height="2" fill="#e80000"/>
<rect x="552" y="632" width="2" height="5" fill="#118a0c"/>
<rect x="558" y="629" width="2" height="8" fill="#118a0c"/>
<rect x="564" y="628" width="2" height="9" fill="#118a0c"/>
<rect x="570" y="629" width="2" height="8" fill="#118a0c"/>
<rect x="576" y="629" width="2" height="8" fill="#118a0c"/>
<rect x="582" y="632" width="2" height="5" fill="#118a0c"/>
<rect x="588" y="635" width="2" height="2" fill="#118a0c"/>
<rect x="594" y="634" width="2" height="3" fill="#118a0c"/>
<rect x="600" y="634" width="2" height="3" fill="#118a0c"/>
<rect x="606" y="635" width="2" height="2" fill="#118a0c"/>
<rect x="612" y="634" width="2" height="3" fill="#118a0c"/>
<rect x="618" y="635" width="2" height="2" fill="#118a0c"/>
<rect x="624" y="636" width="2" height="1" fill="#118a0c"/>
<rect x="636" y="639" width="2" height="1" fill="#e80000"/>
<rect x="642" y="639" width="2" height="2" fill="#e80000"/>
<rect x="648" y="639" width="2" height="3" fill="#e80000"/>
<rect x="654" y="639" width="2" height="3" fill="#e80000"/>
<rect x="660" y="639" width="2" height="3" fill="#e80000"/>
<rect x="666" y="639" width="2" height="1" fill="#e80000"/>
<rect x="678" y="639" width="2" height="1" fill="#e80000"/>
<rect x="684" y="639" width="2" height="4" fill="#e80000"/>
</g>
<rect x="0" y="636.6" width="685" height="2.4" fill="#8a0582"/>
<path d="M680.3 287.2 L693.8 277.6 L745.5 277.6 Q753.8 277.6 753.8 287.2 Q753.8 296.8 745.5 296.8 L693.8 296.8 Z" fill="#000" opacity="1" transform="translate(6,4.5)" filter="url(#shadow)"/>
<path d="M680.3 287.2 L693.8 277.6 L745.5 277.6 Q753.8 277.6 753.8 287.2 Q753.8 296.8 745.5 296.8 L693.8 296.8 Z" fill="#4f7395" stroke="#aabdcc" stroke-width="1.5"/>
<text x="700.6" y="290.9" font-size="13" font-weight="bold" fill="#fff" textLength="43.2" lengthAdjust="spacingAndGlyphs">1.13933</text>
</svg></body></html>
